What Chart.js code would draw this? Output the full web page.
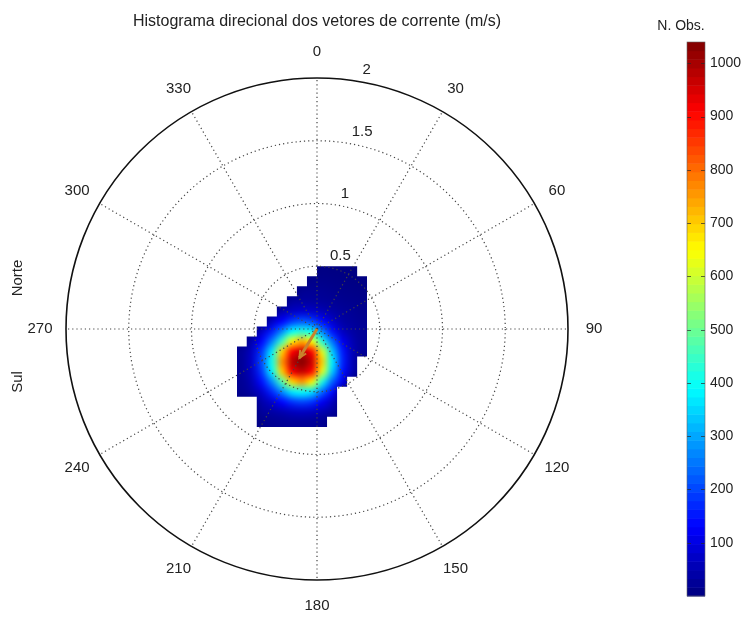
<!DOCTYPE html>
<html>
<head>
<meta charset="utf-8">
<script src="https://cdn.jsdelivr.net/npm/chart.js@4.4.0/dist/chart.umd.min.js"></script>
<style>
  html, body { margin: 0; padding: 0; background: #fff; }
</style>
</head>
<body>
<canvas id="rose" width="750" height="619"></canvas>
<script>
// 2D histogram of current vectors: cell centres (m/s) and number of observations
const uCenters = [-0.60, -0.52, -0.44, -0.36, -0.28, -0.20, -0.12, -0.04, 0.04, 0.12, 0.20, 0.28, 0.36];
const vCenters = [0.46, 0.38, 0.30, 0.22, 0.14, 0.06, -0.02, -0.10, -0.18, -0.26, -0.34, -0.42, -0.50, -0.58, -0.66, -0.74];
const cellSize = 0.08;
const counts = [
  [0, 0, 0, 0, 0, 0, 0, 0, 6, 5, 4, 3, 0],
  [0, 0, 0, 0, 0, 0, 0, 12, 12, 10, 8, 6, 5],
  [0, 0, 0, 0, 0, 0, 20, 22, 20, 16, 12, 10, 8],
  [0, 0, 0, 0, 0, 32, 35, 33, 28, 24, 18, 15, 12],
  [0, 0, 0, 0, 50, 70, 80, 75, 60, 40, 28, 22, 15],
  [0, 0, 0, 70, 130, 190, 220, 200, 140, 80, 40, 28, 20],
  [0, 0, 75, 160, 270, 390, 430, 390, 270, 150, 70, 38, 25],
  [0, 50, 135, 260, 450, 660, 740, 650, 430, 250, 115, 55, 25],
  [25, 70, 190, 370, 690, 910, 970, 900, 620, 340, 160, 60, 25],
  [25, 75, 210, 410, 760, 980, 1035, 960, 700, 380, 170, 60, 0],
  [25, 70, 190, 380, 700, 920, 970, 900, 620, 340, 150, 55, 0],
  [22, 55, 145, 270, 470, 690, 760, 660, 420, 230, 115, 0, 0],
  [18, 38, 80, 170, 270, 370, 400, 360, 240, 140, 0, 0, 0],
  [0, 0, 45, 80, 135, 180, 200, 180, 120, 65, 0, 0, 0],
  [0, 0, 28, 38, 50, 65, 70, 65, 50, 32, 0, 0, 0],
  [0, 0, 12, 18, 22, 25, 25, 24, 20, 0, 0, 0, 0]
];
// mean current vector (u, v) in m/s
const meanVector = [-0.14, -0.23];

const angleTicks = [0, 30, 60, 90, 120, 150, 180, 210, 240, 270, 300, 330];
const radialTicks = [0.5, 1, 1.5, 2];
const colorTicks = [100, 200, 300, 400, 500, 600, 700, 800, 900, 1000];
const countMax = 1040;

// layout of the polar frame (pixels)
const CX = 317, CY = 329, RPX = 251, TOP = 42, BOTTOM = 596, BAR_W = 18, AXIS_W = 45;
const rMax = radialTicks[radialTicks.length - 1];
const k = RPX / rMax;
const FONT = '"Liberation Sans", Arial, Helvetica, sans-serif';

function jet(t) {
  const c = x => Math.max(0, Math.min(1, x));
  return [c(1.5 - Math.abs(4 * t - 3)), c(1.5 - Math.abs(4 * t - 2)), c(1.5 - Math.abs(4 * t - 1))]
    .map(v => Math.round(v * 255));
}

const polarPlot = {
  id: 'polarPlot',
  beforeDatasetsDraw(chart) {
    const ctx = chart.ctx;
    const xs = chart.scales.x, ys = chart.scales.y;
    const cx = xs.getPixelForValue(0), cy = ys.getPixelForValue(0);
    const rp = r => xs.getPixelForValue(r) - cx;

    // histogram cells, colour interpolated inside the occupied cells
    const nx = uCenters.length, ny = vCenters.length;
    const off = document.createElement('canvas');
    off.width = nx; off.height = ny;
    const octx = off.getContext('2d');
    const img = octx.createImageData(nx, ny);
    for (let j = 0; j < ny; j++) {
      for (let i = 0; i < nx; i++) {
        const rgb = jet(counts[j][i] / countMax);
        const p = (j * nx + i) * 4;
        img.data[p] = rgb[0]; img.data[p + 1] = rgb[1]; img.data[p + 2] = rgb[2]; img.data[p + 3] = 255;
      }
    }
    octx.putImageData(img, 0, 0);

    const h = cellSize / 2;
    const left = xs.getPixelForValue(uCenters[0] - h);
    const right = xs.getPixelForValue(uCenters[nx - 1] + h);
    const top = ys.getPixelForValue(vCenters[0] + h);
    const bottom = ys.getPixelForValue(vCenters[ny - 1] - h);

    ctx.save();
    ctx.beginPath();
    for (let j = 0; j < ny; j++) {
      for (let i = 0; i < nx; i++) {
        if (!counts[j][i]) continue;
        const x0 = xs.getPixelForValue(uCenters[i] - h), x1 = xs.getPixelForValue(uCenters[i] + h);
        const y0 = ys.getPixelForValue(vCenters[j] + h), y1 = ys.getPixelForValue(vCenters[j] - h);
        ctx.rect(x0, y0, x1 - x0, y1 - y0);
      }
    }
    ctx.clip();
    ctx.imageSmoothingEnabled = true;
    ctx.imageSmoothingQuality = 'high';
    ctx.drawImage(off, left, top, right - left, bottom - top);
    ctx.restore();

    // dotted grid
    ctx.save();
    ctx.strokeStyle = '#444';
    ctx.lineWidth = 1.2;
    ctx.setLineDash([1.2, 3]);
    radialTicks.slice(0, -1).forEach(r => {
      ctx.beginPath();
      ctx.arc(cx, cy, rp(r), 0, Math.PI * 2);
      ctx.stroke();
    });
    angleTicks.forEach(a => {
      const t = a * Math.PI / 180;
      ctx.beginPath();
      ctx.moveTo(cx, cy);
      ctx.lineTo(cx + rp(rMax) * Math.sin(t), cy - rp(rMax) * Math.cos(t));
      ctx.stroke();
    });
    ctx.setLineDash([]);
    ctx.strokeStyle = '#111';
    ctx.lineWidth = 1.6;
    ctx.beginPath();
    ctx.arc(cx, cy, rp(rMax), 0, Math.PI * 2);
    ctx.stroke();
    ctx.restore();
  },
  afterDatasetsDraw(chart) {
    const ctx = chart.ctx;
    const xs = chart.scales.x, ys = chart.scales.y, cb = chart.scales.cb;
    const cx = xs.getPixelForValue(0), cy = ys.getPixelForValue(0);
    const rp = r => xs.getPixelForValue(r) - cx;

    // arrow head on the mean vector
    const tx = xs.getPixelForValue(meanVector[0]), ty = ys.getPixelForValue(meanVector[1]);
    const ang = Math.atan2(ty - cy, tx - cx);
    ctx.save();
    ctx.strokeStyle = '#c9832c';
    ctx.lineWidth = 2;
    ctx.beginPath();
    ctx.moveTo(tx - 8 * Math.cos(ang - 0.45), ty - 8 * Math.sin(ang - 0.45));
    ctx.lineTo(tx, ty);
    ctx.lineTo(tx - 8 * Math.cos(ang + 0.45), ty - 8 * Math.sin(ang + 0.45));
    ctx.stroke();
    ctx.restore();

    ctx.save();
    ctx.fillStyle = '#222';
    ctx.textAlign = 'center';
    ctx.textBaseline = 'middle';
    ctx.font = '15px ' + FONT;
    angleTicks.forEach(a => {
      const t = a * Math.PI / 180;
      const rr = rp(rMax) + 26;
      ctx.fillText(String(a), cx + rr * Math.sin(t), cy - rr * Math.cos(t));
    });
    ctx.textAlign = 'left';
    ctx.textBaseline = 'bottom';
    radialTicks.forEach(r => {
      const t = 10 * Math.PI / 180;
      ctx.fillText(String(r), cx + rp(r) * Math.sin(t) + 2, cy - rp(r) * Math.cos(t) - 4);
    });

    // title and side labels
    ctx.textAlign = 'center';
    ctx.textBaseline = 'middle';
    ctx.font = '16px ' + FONT;
    ctx.fillText('Histograma direcional dos vetores de corrente (m/s)', cx, 22);
    ctx.font = '14px ' + FONT;
    ctx.fillText('N. Obs.', 681, 26);
    ctx.font = '15px ' + FONT;
    ctx.save();
    ctx.translate(18, 278);
    ctx.rotate(-Math.PI / 2);
    ctx.fillText('Norte', 0, 0);
    ctx.restore();
    ctx.save();
    ctx.translate(18, 382);
    ctx.rotate(-Math.PI / 2);
    ctx.fillText('Sul', 0, 0);
    ctx.restore();
    ctx.restore();

    // colour bar
    const bx1 = chart.chartArea.right, bx0 = bx1 - BAR_W;
    const n = 64;
    for (let i = 0; i < n; i++) {
      const rgb = jet((i + 0.5) / n);
      const y0 = cb.getPixelForValue((i + 1) * countMax / n);
      const y1 = cb.getPixelForValue(i * countMax / n);
      ctx.fillStyle = 'rgb(' + rgb.join(',') + ')';
      ctx.fillRect(bx0, y0, BAR_W, y1 - y0 + 0.5);
    }
    ctx.save();
    ctx.strokeStyle = 'rgba(40,40,40,0.7)';
    ctx.lineWidth = 1;
    colorTicks.forEach(v => {
      const y = Math.round(cb.getPixelForValue(v)) + 0.5;
      ctx.beginPath();
      ctx.moveTo(bx0, y); ctx.lineTo(bx0 + 4, y);
      ctx.moveTo(bx1 - 4, y); ctx.lineTo(bx1, y);
      ctx.stroke();
    });
    ctx.strokeStyle = '#666';
    ctx.lineWidth = 0.6;
    ctx.strokeRect(bx0, cb.getPixelForValue(countMax), BAR_W, cb.getPixelForValue(0) - cb.getPixelForValue(countMax));
    ctx.restore();
  }
};

new Chart(document.getElementById('rose'), {
  type: 'scatter',
  data: {
    datasets: [{
      data: [{ x: 0, y: 0 }, { x: meanVector[0], y: meanVector[1] }],
      showLine: true,
      borderColor: '#c9832c',
      borderWidth: 3,
      pointRadius: 0,
      xAxisID: 'x',
      yAxisID: 'y'
    }]
  },
  options: {
    responsive: false,
    animation: false,
    layout: { padding: { top: TOP, bottom: 619 - BOTTOM, left: 0, right: 0 } },
    plugins: { legend: { display: false }, tooltip: { enabled: false } },
    scales: {
      x: { type: 'linear', display: false, min: -CX / k, max: (750 - AXIS_W - CX) / k },
      y: { type: 'linear', display: false, min: -(BOTTOM - CY) / k, max: (CY - TOP) / k },
      cb: {
        type: 'linear',
        position: 'right',
        min: 0,
        max: countMax,
        afterBuildTicks: s => { s.ticks = colorTicks.map(v => ({ value: v })); },
        afterFit: s => { s.width = AXIS_W; },
        grid: { drawOnChartArea: false, drawTicks: false },
        border: { display: false },
        ticks: { padding: 5, color: '#222', font: { family: FONT, size: 14 }, callback: v => String(v) }
      }
    }
  },
  plugins: [polarPlot]
});
</script>
</body>
</html>
